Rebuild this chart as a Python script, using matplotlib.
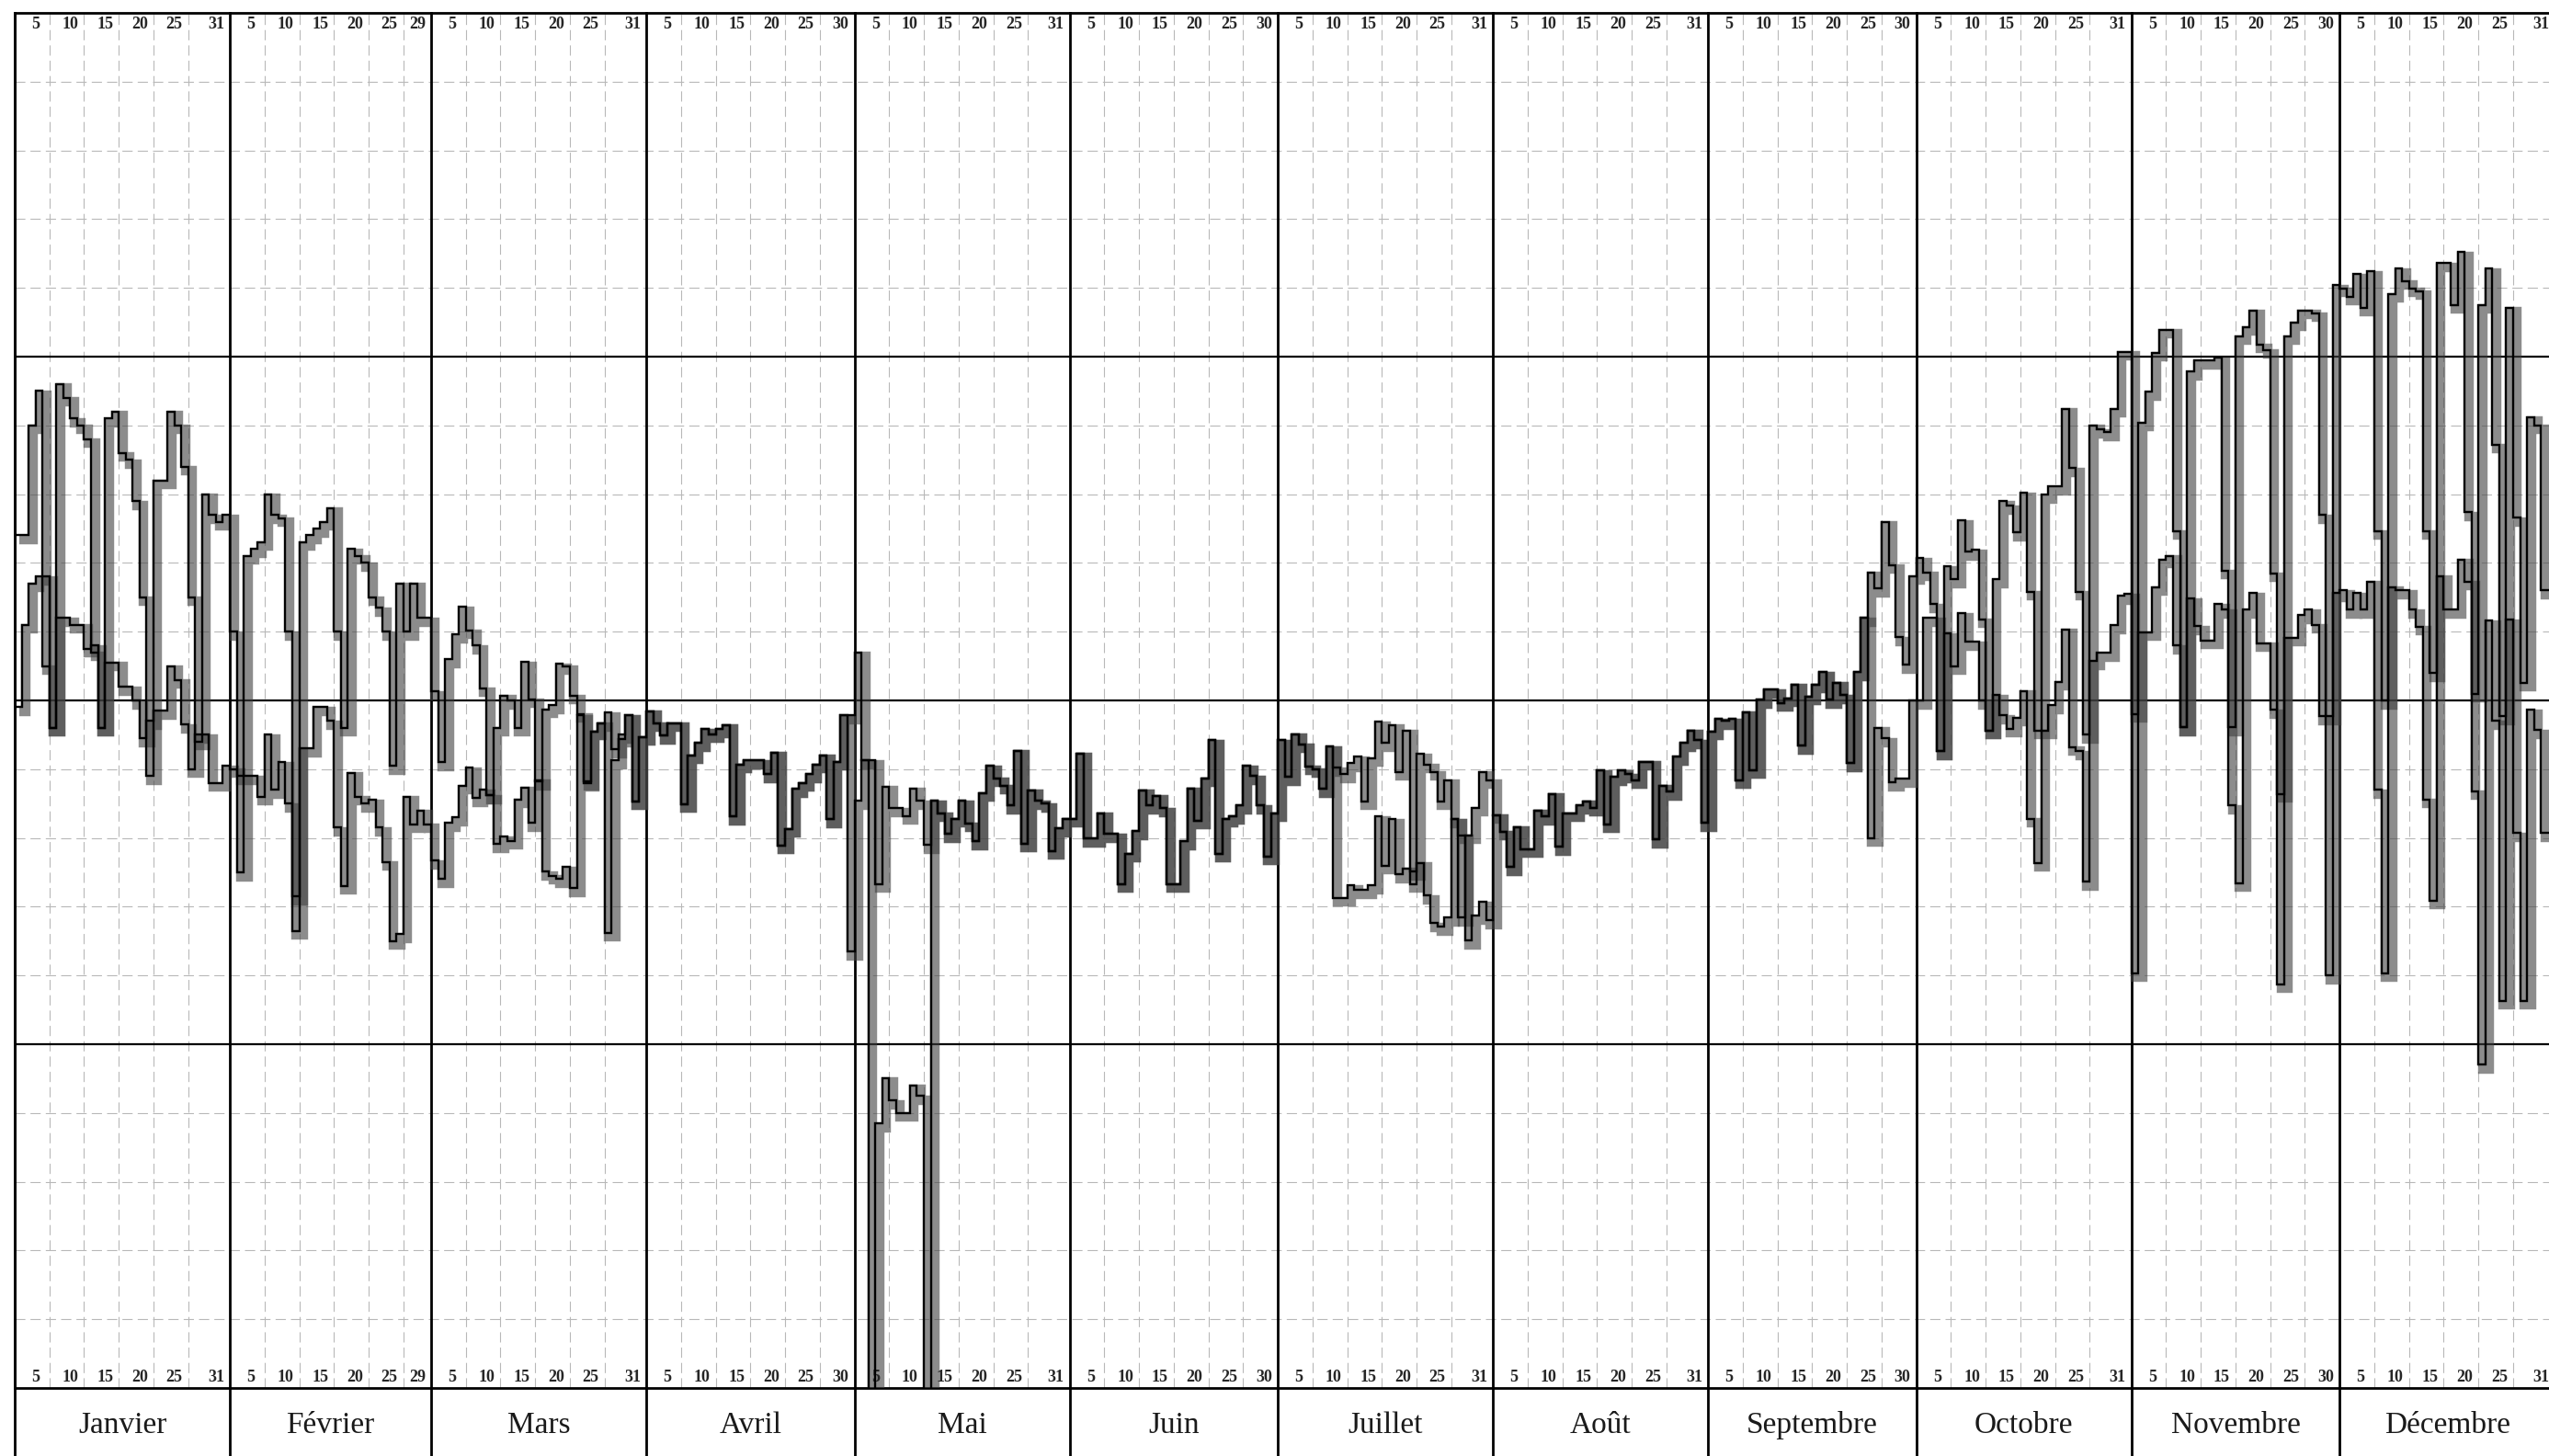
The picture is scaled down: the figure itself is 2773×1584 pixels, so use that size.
import numpy as np
import matplotlib
matplotlib.use("Agg")
import matplotlib.pyplot as plt
import matplotlib.transforms as mtransforms

months = ["Janvier", "Février", "Mars", "Avril", "Mai", "Juin", "Juillet",
          "Août", "Septembre", "Octobre", "Novembre", "Décembre"]
month_days = [31, 29, 31, 30, 31, 30, 31, 31, 30, 31, 30, 31]
day_marks = [5, 10, 15, 20, 25]

# two daily series (units = minor grid divisions)
jan_a = [2.4, 2.4, 4.0, 4.5, 0.5, -0.4, 4.6, 4.4, 4.1, 4.0, 3.8, 0.7, -0.4, 4.1, 4.2, 3.6,
         3.5, 2.9, 1.5, -1.1, 3.2, 3.2, 4.2, 4.0, 3.4, 1.5, -0.6, 3.0, 2.7, 2.6, 2.7]
jan_b = [-0.1, 1.1, 1.7, 1.8, 1.8, -0.4, 1.2, 1.2, 1.1, 1.1, 0.75, 0.8, -0.4, 0.55, 0.55, 0.2,
         0.2, 0.0, -0.55, -0.3, -0.15, -0.15, 0.5, 0.3, -0.35, -1.0, -0.5, -0.5, -1.2, -1.2, -0.95]
feb_a = [1.0, -2.5, 2.1, 2.2, 2.3, 3.0, 2.7, 2.65, 1.0, -3.35, 2.3, 2.4, 2.5, 2.6, 2.8, 1.0,
         -0.4, 2.2, 2.1, 2.0, 1.5, 1.35, 1.0, -0.95, 1.7, 1.0, 1.7, 1.2, 1.2]
feb_b = [-1.0, -1.1, -1.1, -1.1, -1.4, -0.5, -1.3, -0.9, -1.5, -2.85, -0.7, -0.7, -0.1, -0.1,
         -0.3, -1.85, -2.7, -1.05, -1.4, -1.5, -1.45, -1.85, -2.35, -3.5, -3.4, -1.4, -1.8, -1.6, -1.8]
mar_a = [0.13, -0.9, 0.6, 0.96, 1.36, 1.02, 0.8, 0.18, -1.38, -0.4, 0.07, 0.0, -0.4, 0.56, 0.02,
         -1.18, -0.13, -0.07, 0.53, 0.5, 0.07, -0.2, -1.18, -0.45, -0.33, -0.18, -0.71, -0.5,
         -0.22, -1.47, -0.53]
mar_b = [-2.33, -2.6, -1.78, -1.7, -1.24, -0.98, -1.42, -1.3, -1.38, -2.09, -1.98, -2.04, -1.44,
         -1.27, -1.78, -1.16, -2.49, -2.55, -2.6, -2.42, -2.73, -0.22, -1.2, -0.45, -0.33, -3.38,
         -0.87, -0.56, -0.22, -1.47, -0.53]
apr_a = [-0.16, -0.33, -0.51, -0.33, -0.33, -1.51, -0.8, -0.62, -0.42, -0.49, -0.42, -0.36, -1.69,
         -0.93, -0.87, -0.87, -0.87, -1.07, -0.76, -2.11, -1.87, -1.29, -1.2, -1.07, -0.93, -0.8,
         -1.73, -0.89, -0.22, -0.22]
apr_b = [-0.16, -0.33, -0.51, -0.33, -0.33, -1.51, -0.8, -0.62, -0.42, -0.49, -0.42, -0.36, -1.69,
         -0.93, -0.87, -0.87, -0.87, -1.07, -0.76, -2.11, -1.87, -1.29, -1.2, -1.07, -0.93, -0.8,
         -1.73, -0.89, -0.22, -3.65]
may_a = [0.7, -0.87, -0.87, -2.67, -1.25, -1.57, -1.57, -1.68, -1.28, -1.46, -2.1, -1.46, -1.64,
         -1.94, -1.72, -1.46, -1.79, -2.05, -1.35, -0.95, -1.13, -1.24, -1.53, -0.73, -2.08, -1.31,
         -1.46, -1.5, -2.19, -1.86, -1.72]
may_b = [-1.46, -0.87, -11.0, -6.15, -5.49, -5.82, -6.0, -6.0, -5.6, -5.75, -11.0, -1.46, -1.64,
         -1.94, -1.72, -1.46, -1.79, -2.05, -1.35, -0.95, -1.13, -1.24, -1.53, -0.73, -2.08, -1.31,
         -1.46, -1.5, -2.19, -1.86, -1.72]
jun_a = [-1.72, -0.77, -2.01, -2.01, -1.64, -1.94, -1.94, -2.67, -2.23, -1.9, -1.31, -1.53, -1.39,
         -1.57, -2.67, -2.67, -2.05, -1.28, -1.75, -1.13, -0.58, -2.23, -1.72, -1.68, -1.53, -0.95,
         -1.1, -1.53, -2.27, -1.64]
jun_b = list(jun_a)
jul_a = [-0.58, -1.11, -0.49, -0.64, -0.96, -1.0, -1.29, -0.67, -0.98, -1.07, -0.91, -0.82, -1.47,
         -0.84, -0.31, -0.62, -0.36, -1.04, -0.44, -2.49, -0.78, -0.93, -1.04, -1.47, -1.16, -1.73,
         -3.16, -1.96, -1.56, -1.04, -1.16]
jul_b = [-0.58, -1.11, -0.49, -0.64, -0.96, -1.0, -1.29, -0.67, -2.87, -2.87, -2.69, -2.76, -2.76,
         -2.69, -1.69, -2.4, -1.73, -2.53, -2.44, -2.67, -2.36, -2.84, -3.24, -3.29, -3.16, -1.73,
         -1.96, -3.49, -3.13, -2.93, -3.2]
aug_a = [-1.67, -1.91, -2.42, -1.84, -2.16, -2.16, -1.6, -1.69, -1.36, -2.13, -1.64, -1.64, -1.53,
         -1.47, -1.56, -1.02, -1.8, -1.11, -1.02, -1.07, -1.16, -0.89, -0.89, -2.02, -1.24, -1.33,
         -0.82, -0.62, -0.44, -0.58, -1.78]
aug_b = list(aug_a)
sep_a = [-0.45, -0.27, -0.3, -0.27, -1.16, -0.17, -1.01, 0.01, 0.16, 0.16, -0.04, 0.03, 0.23, -0.66,
         0.06, 0.23, 0.41, 0.01, 0.26, 0.08, -0.91, 0.41, 1.2, 1.86, 1.63, 2.6, 1.97, 0.92, 0.52, 1.81]
sep_b = [-0.45, -0.27, -0.3, -0.27, -1.16, -0.17, -1.01, 0.01, 0.16, 0.16, -0.04, 0.03, 0.23, -0.66,
         0.06, 0.23, 0.41, 0.01, 0.26, 0.08, -0.91, 0.41, 1.2, -2.0, -0.4, -0.55, -1.19, -1.14,
         -1.14, 0.0]
oct_a = [2.07, 1.86, 1.4, -0.74, 1.95, 1.76, 2.62, 2.16, 2.19, 1.18, -0.44, 1.76, 2.9, 2.83, 2.44,
         3.02, 1.58, -0.44, 2.99, 3.11, 3.11, 4.24, 3.38, 1.58, -0.5, 4.0, 3.94, 3.9, 4.24, 5.07, 5.07]
oct_b = [0.0, 1.2, 1.2, -0.74, 0.97, 0.5, 1.27, 0.85, 0.85, 0.0, -0.44, 0.08, -0.22, -0.41, -0.25,
         0.14, -1.72, -2.36, -0.44, -0.07, 0.27, 1.03, -0.68, -0.74, -2.64, 0.57, 0.69, 0.69, 1.09,
         1.52, 1.55]
nov_a = [-0.2, 4.04, 4.49, 5.06, 5.39, 5.39, 2.46, -0.39, 4.78, 4.94, 4.94, 4.94, 4.98, 1.89, -0.39,
         5.3, 5.43, 5.67, 5.18, 5.1, 1.85, -1.36, 5.3, 5.5, 5.67, 5.67, 5.63, 2.7, -0.23, 6.04]
nov_b = [-3.97, 0.99, 0.99, 1.65, 2.05, 2.1, 0.8, -0.39, 1.48, 1.08, 0.87, 0.87, 1.4, 1.32, -1.53,
         -2.66, 1.32, 1.56, 0.83, 0.83, -0.14, -4.13, 0.91, 0.91, 1.24, 1.32, 1.1, -0.23, -4.0, 1.56]
dec_a = [5.99, 5.87, 6.2, 5.71, 6.24, 2.46, 0.0, 5.91, 6.28, 6.1, 5.99, 5.95, 2.46, 0.4, 6.36,
         6.36, 5.75, 6.52, 2.74, 0.1, 5.75, 6.28, 3.72, -0.23, 5.71, 2.66, 0.26, 4.12, 4.0, 1.6, 1.6]
dec_b = [1.6, 1.32, 1.56, 1.32, 1.73, -1.3, -3.97, 1.65, 1.6, 1.6, 1.32, 1.07, -1.44, -2.91, 1.81,
         1.32, 1.32, 2.05, 1.73, -1.32, -5.3, 1.16, -0.3, -4.37, 1.17, -1.93, -4.37, -0.14, -0.43,
         -1.93, -1.93]

serie_a = np.concatenate([jan_a, feb_a, mar_a, apr_a, may_a, jun_a,
                          jul_a, aug_a, sep_a, oct_a, nov_a, dec_a])
serie_b = np.concatenate([jan_b, feb_b, mar_b, apr_b, may_b, jun_b,
                          jul_b, aug_b, sep_b, oct_b, nov_b, dec_b])

starts = np.concatenate([[0], np.cumsum(month_days)])
ndays = starts[-1]
edges = np.arange(ndays + 1)

W, H = 2773, 1584
fig = plt.figure(figsize=(W / 100, H / 100), dpi=100)
x0, ytop, ybot = 16, 14, 1510
ax = fig.add_axes([x0 / W, (H - ybot) / H, ndays * 7.55 / W, (ybot - ytop) / H])
ax.set_xlim(0, ndays)
ax.set_ylim(-10, 10)
ax.set_xticks([])
ax.set_yticks([])
for s in ["left", "top", "bottom"]:
    ax.spines[s].set_linewidth(2)
ax.spines["right"].set_visible(False)

# grid
grid_kw = dict(color="0.72", lw=0.8, ls=(0, (10, 5)), zorder=1)
for v in range(-9, 10):
    if v % 5 != 0:
        ax.axhline(v, **grid_kw)
for v in (-5, 0, 5):
    ax.axhline(v, color="k", lw=1.6, zorder=2)
for m in range(12):
    for d in day_marks:
        ax.axvline(starts[m] + d, **grid_kw)
for s in starts[:-1]:
    ax.axvline(s, ymin=-0.06, ymax=1, color="k", lw=2, zorder=2, clip_on=False)

# data: grey shadow band then the black ink line
shift = mtransforms.ScaledTranslation(4.5 / 100, -4.5 / 100, fig.dpi_scale_trans)
for serie in (serie_a, serie_b):
    p = ax.stairs(serie, edges, baseline=None, color="0.25", lw=7.5, alpha=0.6,
                  transform=ax.transData + shift, zorder=3)
    p.set_joinstyle("miter")
for serie in (serie_a, serie_b):
    p = ax.stairs(serie, edges, baseline=None, color="k", lw=1.7, zorder=4)
    p.set_joinstyle("miter")

# day numbers top and bottom, month names below
tr = mtransforms.blended_transform_factory(ax.transData, ax.transAxes)
for m in range(12):
    labs = day_marks + [month_days[m]]
    for d in labs:
        for yy in (0.9915, 0.0075):
            ax.text(starts[m] + d - 2.0, yy, str(d), transform=tr, ha="center", va="center",
                    fontsize=13, fontweight="bold", family="Liberation Serif", color="0.15")
    ax.text(starts[m] + month_days[m] / 2, -0.027, months[m], transform=tr, ha="center",
            va="center", fontsize=24, family="Liberation Serif", color="0.1", clip_on=False)

fig.savefig("out.png", dpi=100, facecolor="white")
